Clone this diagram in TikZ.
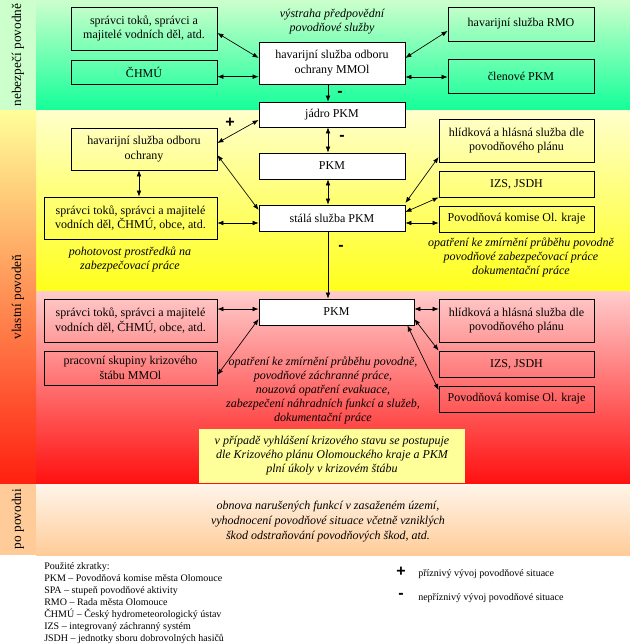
\documentclass[tikz,border=0pt]{standalone}
\usepackage{fontspec}
\setmainfont{LiberationSerif}[Extension=.ttf,UprightFont=*-Regular,ItalicFont=*-Italic,BoldFont=*-Bold,BoldItalicFont=*-BoldItalic]
\newfontfamily\signfont{Liberation Sans}
\usetikzlibrary{arrows.meta}
\definecolor{stripgreen}{HTML}{CCFFCC}
\definecolor{greentop}{HTML}{CCFFCC}
\definecolor{greenbot}{HTML}{14FF99}
\definecolor{yellowtop}{HTML}{FFFFCC}
\definecolor{yellowbot}{HTML}{FFFF1A}
\definecolor{redtop}{HTML}{FFCCCC}
\definecolor{redbot}{HTML}{FF1010}
\definecolor{striptop}{HTML}{FFFF99}
\definecolor{stripmid}{HTML}{FFBF70}
\definecolor{stripbot}{HTML}{FF2010}
\definecolor{peachtop}{HTML}{FFF5EA}
\definecolor{peachbot}{HTML}{FFCC99}
\definecolor{noteyellow}{HTML}{FFFF99}

\begin{document}
\begin{tikzpicture}[x=0.75pt,y=-0.75pt,
  box/.style={draw,line width=0.6pt,align=center,inner sep=0pt,font=\fontsize{9}{11}\selectfont},
  note/.style={align=center,inner sep=0pt,font=\fontsize{9}{10.5}\selectfont\itshape},
  phase/.style={rotate=90,font=\fontsize{10}{12}\selectfont},
  sign/.style={inner sep=0pt,font=\signfont\bfseries\fontsize{12}{12}\selectfont},
  legend/.style={align=left,inner sep=0pt,font=\fontsize{7.5}{9}\selectfont},
  both/.style={{Latex[length=4.5pt,width=3.5pt]}-{Latex[length=4.5pt,width=3.5pt]},line width=0.5pt},
  one/.style={-{Latex[length=4.5pt,width=3.5pt]},line width=0.5pt}]
\useasboundingbox (0,0) rectangle (630,644);

\shade[top color=greentop,bottom color=greenbot] (36,0) rectangle (630,110);
\fill[stripgreen] (0,0) rectangle (36,110);
\shade[top color=yellowtop,bottom color=yellowbot] (36,110) rectangle (630,291);
\shade[top color=redtop,bottom color=redbot] (36,291) rectangle (630,484);
\shade[top color=striptop,middle color=stripmid,bottom color=stripbot] (0,110) rectangle (36,484);
\shade[top color=peachtop,bottom color=peachbot] (36,484) rectangle (630,555);
\fill[peachbot] (0,484) rectangle (36,555);

\node[phase] (ph1) at (18,55) {nebezpečí povodně};
\node[phase] (ph2) at (18,297) {vlastní povodeň};
\node[phase] (ph3) at (18,519) {po povodni};

\node[note] (vystraha) at (332,22) {výstraha předpovědní\\povodňové služby};
\node[box,fill=white,minimum width=109.5pt,minimum height=31.5pt] (hsoo) at (332,63) {havarijní služba odboru\\ochrany MMOl};
\node[box,minimum width=109.5pt,minimum height=32.25pt] (spr1) at (144,28.5) {správci toků, správci a\\majitelé vodních děl, atd.};
\node[box,minimum width=109.5pt,minimum height=18pt] (chmu) at (144,72) {ČHMÚ};
\node[box,minimum width=109.5pt,minimum height=25.5pt] (rmo) at (521,24) {havarijní služba RMO};
\node[box,minimum width=109.5pt,minimum height=25.5pt] (clen) at (521,76) {členové PKM};
\draw[both] ([yshift=-3.4pt]spr1.east) -- ([yshift=3.8pt]hsoo.west);
\draw[both] ([yshift=-3.5pt]chmu.east) -- ([yshift=-3.5pt]chmu.east -| hsoo.west);
\draw[both] ([yshift=3.8pt]hsoo.east) -- ([yshift=-5.2pt]rmo.west);
\draw[both] ([yshift=-10.5pt]hsoo.east) -- ([yshift=-10.5pt]hsoo.east -| clen.west);

\node[box,fill=white,minimum width=109.5pt,minimum height=18.75pt] (jadro) at (332,114.5) {jádro PKM};
\node[box,fill=white,minimum width=109.5pt,minimum height=19.5pt] (pkm1) at (332,166) {PKM};
\node[box,fill=white,minimum width=109.5pt,minimum height=19.5pt] (stala) at (332,218) {stálá služba PKM};
\node[box,minimum width=109.5pt,minimum height=31.5pt] (hso) at (144,149) {havarijní služba odboru\\ochrany};
\node[box,minimum width=129.75pt,minimum height=31.5pt] (spr2) at (130.5,218) {správci toků, správci a majitelé\\vodních děl, ČHMÚ, obce, atd.};
\node[box,minimum width=116.25pt,minimum height=32.25pt] (hlid1) at (516.5,140.5) {hlídková a hlásná služba dle\\povodňového plánu};
\node[box,minimum width=116.25pt,minimum height=19.5pt] (izs1) at (516.5,184) {IZS, JSDH};
\node[box,minimum width=116.25pt,minimum height=19.5pt] (kraj1) at (516.5,219) {Povodňová komise Ol. kraje};
\node[note] (pohot) at (130,259) {pohotovost prostředků na\\zabezpečovací práce};
\node[note] (opat1) at (521,257) {opatření ke zmírnění průběhu povodně\\povodňové zabezpečovací práce\\dokumentační práce};
\draw[one] ([xshift=-3pt]hsoo.south) -- ([xshift=-3pt]jadro.north);
\draw[both] ([xshift=-3pt]jadro.south) -- ([xshift=-3pt]pkm1.north);
\draw[both] ([xshift=-3pt]pkm1.south) -- ([xshift=-3pt]stala.north);
\draw[both] ([yshift=4.5pt]hso.east) -- ([yshift=-4.1pt]jadro.west);
\draw[both] ([yshift=-4.5pt]hso.east) -- ([yshift=6pt]stala.west);
\draw[both] ([xshift=-3.75pt]hso.south) -- ([xshift=-3.75pt]hso.south |- spr2.north);
\draw[both] ([yshift=-3.75pt]spr2.east) -- ([yshift=-3.75pt]spr2.east -| stala.west);
\draw[both] ([yshift=11.25pt]stala.east) -- ([yshift=-12.4pt]hlid1.west);
\draw[both] ([yshift=4.5pt]stala.east) -- (izs1.south west);
\draw[both] ([yshift=-3.75pt]stala.east) -- ([yshift=-3.75pt]stala.east -| kraj1.west);
\node[sign] (plus1) at (230,123) {+};
\node[sign] (minus1) at (340,94) {-};
\node[sign] (minus2) at (342,138) {-};
\node[sign] (minus3) at (341,248) {-};

\node[box,fill=white,minimum width=116.25pt,minimum height=19.5pt] (pkm2) at (336.5,312) {PKM};
\node[box,minimum width=129.75pt,minimum height=32.25pt] (spr3) at (130.5,320.5) {správci toků, správci a majitelé\\vodních děl, ČHMÚ, obce, atd.};
\node[box,minimum width=129.75pt,minimum height=25.5pt] (skup) at (130.5,368) {pracovní skupiny krizového\\štábu MMOl};
\node[box,minimum width=116.25pt,minimum height=32.25pt] (hlid2) at (516.5,320.5) {hlídková a hlásná služba dle\\povodňového plánu};
\node[box,minimum width=116.25pt,minimum height=19.5pt] (izs2) at (516.5,364) {IZS, JSDH};
\node[box,minimum width=116.25pt,minimum height=19.5pt] (kraj2) at (516.5,399) {Povodňová komise Ol. kraje};
\draw[one] ([xshift=-3pt]stala.south) -- ([xshift=-3pt]stala.south |- pkm2.north);
\draw[both] ([yshift=8.6pt]spr3.east) -- ([yshift=8.6pt]spr3.east -| pkm2.west);
\draw[both] ([yshift=-5.25pt]skup.east) -- ([yshift=-5.25pt]pkm2.west);
\draw[both] ([yshift=2.25pt]pkm2.east) -- ([yshift=2.25pt]pkm2.east -| hlid2.west);
\draw[both] ([yshift=-5.25pt]pkm2.east) -- (izs2.north west);
\draw[both] ([xshift=-5.25pt]pkm2.south east) -- ([yshift=6.75pt]kraj2.west);
\node[note] (opat2) at (323,390.5) {opatření ke zmírnění průběhu povodně,\\povodňové záchranné práce,\\nouzová opatření evakuace,\\zabezpečení náhradních funkcí a služeb,\\dokumentační práce};
\node[note,fill=noteyellow,minimum width=199.5pt,minimum height=40.5pt] (krize) at (332,456) {v případě vyhlášení krizového stavu se postupuje\\dle Krizového plánu Olomouckého kraje a PKM\\plní úkoly v krizovém štábu};

\node[note,font=\fontsize{9}{11.25}\selectfont\itshape] (obnova) at (328,522) {obnova narušených funkcí v zasaženém území,\\vyhodnocení povodňové situace včetně vzniklých\\škod odstraňování povodňových škod, atd.};

\node[legend,anchor=north west] (zkratky) at (44,562) {Použité zkratky:\\PKM – Povodňová komise města Olomouce\\SPA – stupeň povodňové aktivity\\RMO – Rada města Olomouce\\ČHMÚ – Český hydrometeorologický ústav\\IZS – integrovaný záchranný systém\\JSDH – jednotky sboru dobrovolných hasičů};
\node[sign] (lplus) at (401,572) {+};
\node[legend,anchor=west] (lplustxt) at (418,574) {příznivý vývoj povodňové situace};
\node[sign] (lminus) at (401,596) {-};
\node[legend,anchor=west] (lminustxt) at (418,598) {nepříznivý vývoj povodňové situace};
\end{tikzpicture}
\end{document}
